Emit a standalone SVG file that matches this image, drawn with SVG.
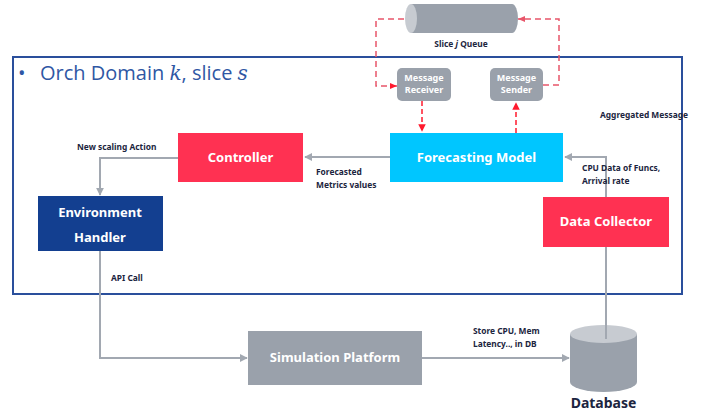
<svg xmlns="http://www.w3.org/2000/svg" width="708" height="415" viewBox="0 0 708 415">
<style>
.lbl{font-family:"Noto Sans","Open Sans",sans-serif;font-size:8.4px;font-weight:bold;fill:#1c2540}
.nt{font-family:"Noto Sans","Open Sans",sans-serif;font-size:13px;font-weight:bold;fill:#fff;text-anchor:middle}
.mt{font-family:"Noto Sans","Open Sans",sans-serif;font-size:9px;font-weight:bold;fill:#fff;text-anchor:middle}
.con{fill:none;stroke:#a2a8b1;stroke-width:2}
.dash{fill:none;stroke:#e8566a;stroke-width:1.5;stroke-dasharray:6,4}
.red{fill:none;stroke:#ff1a2e;stroke-width:1.5;stroke-dasharray:5,3}
</style>
<defs>
<marker id="ag" viewBox="0 0 10 10" refX="9" refY="5" markerWidth="4" markerHeight="4" orient="auto"><path d="M0,0 L10,5 L0,10 z" fill="#a2a8b1"/></marker>
<marker id="ar" viewBox="0 0 10 10" refX="9" refY="5" markerWidth="5" markerHeight="5" orient="auto"><path d="M0,0 L10,5 L0,10 z" fill="#ff1a2e"/></marker>
</defs>
<rect width="708" height="415" fill="#fff"/>
<g id="domain">
<rect x="13" y="57" width="669" height="237" fill="none" stroke="#2a4f9c" stroke-width="2"/>
<text x="18" y="80" font-family="'Open Sans','Noto Sans',sans-serif" font-size="20" fill="#2f57a4">• <tspan x="40">Orch Domain </tspan><tspan font-family="'DejaVu Serif','Liberation Serif',serif" font-style="italic">k</tspan>, slice <tspan font-family="'DejaVu Serif','Liberation Serif',serif" font-style="italic">s</tspan></text>
</g>
<g id="connectors">
<path class="dash" d="M397,86 H376 V19 H405"/>
<path d="M390,83 L397,86 L390,89 z" fill="#ff1a2e"/>
<path class="dash" d="M543,85 H559 V19 H518"/>
<path d="M525,16 L518,19 L525,22 z" fill="#e8566a"/>
<path class="red" d="M422,101 V131" marker-end="url(#ar)"/>
<path class="red" d="M516,133 V103" marker-end="url(#ar)"/>
<path class="con" d="M390,157 H305" marker-end="url(#ag)"/>
<path class="con" d="M178,158 H100 V195" marker-end="url(#ag)"/>
<path class="con" d="M100,251 V358 H247" marker-end="url(#ag)"/>
<path class="con" d="M422,358 H569" marker-end="url(#ag)"/>
<path class="con" d="M606,197 V157 H565" marker-end="url(#ag)"/>
<path class="con" d="M606,247 V339"/>
</g>
<g id="queue">
<path d="M411,4 H512 A6,14.5 0 0 1 512,33 H411 z" fill="#9aa1ab"/>
<ellipse cx="411" cy="18.5" rx="6" ry="14.5" fill="#c7cbd1"/>
<text x="461" y="47" class="lbl" text-anchor="middle">Slice <tspan font-style="italic">j</tspan> Queue</text>
</g>
<g id="receiver">
<rect x="397" y="68" width="54" height="33" rx="5" fill="#9aa1ab"/>
<text x="424" y="81" class="mt">Message</text>
<text x="424" y="93" class="mt">Receiver</text>
</g>
<g id="sender">
<rect x="490" y="68" width="53" height="33" rx="5" fill="#9aa1ab"/>
<text x="516.5" y="81" class="mt">Message</text>
<text x="516.5" y="93" class="mt">Sender</text>
</g>
<g id="forecasting">
<rect x="390" y="133" width="173" height="49" fill="#00c6ff"/>
<text x="476.5" y="162" class="nt">Forecasting Model</text>
</g>
<g id="controller">
<rect x="178" y="133" width="125" height="49" fill="#ff3152"/>
<text x="240.5" y="162" class="nt">Controller</text>
</g>
<g id="envhandler">
<rect x="38" y="196" width="125" height="55" fill="#133f90"/>
<text x="100" y="217" class="nt">Environment</text>
<text x="100" y="242" class="nt">Handler</text>
</g>
<g id="datacollector">
<rect x="543" y="197" width="126" height="50" fill="#ff3152"/>
<text x="606" y="226" class="nt">Data Collector</text>
</g>
<g id="simulation">
<rect x="248" y="331" width="174" height="54" fill="#9aa1ab"/>
<text x="335" y="362" class="nt">Simulation Platform</text>
</g>
<g id="database">
<path d="M570,334 V382 A33.5,10 0 0 0 637,382 V334 z" fill="#9aa1ab"/>
<ellipse cx="603.5" cy="334" rx="33.5" ry="9" fill="#c7cbd1"/>
<path d="M606,325 V339" stroke="#a2a8b1" stroke-width="2"/>
<text x="603.5" y="408" font-family="'Noto Sans','Open Sans',sans-serif" font-size="14" font-weight="bold" fill="#1c2540" text-anchor="middle">Database</text>
</g>
<g id="labels">
<text x="77" y="150" class="lbl">New scaling Action</text>
<text x="316" y="175" class="lbl">Forecasted</text>
<text x="316" y="188" class="lbl">Metrics values</text>
<text x="582" y="171" class="lbl">CPU Data of Funcs,</text>
<text x="582" y="184" class="lbl">Arrival rate</text>
<text x="600" y="118" class="lbl">Aggregated Message</text>
<text x="111" y="281" class="lbl">API Call</text>
<text x="473" y="334" class="lbl">Store CPU, Mem</text>
<text x="473" y="347" class="lbl">Latency.., in DB</text>
</g>
</svg>
